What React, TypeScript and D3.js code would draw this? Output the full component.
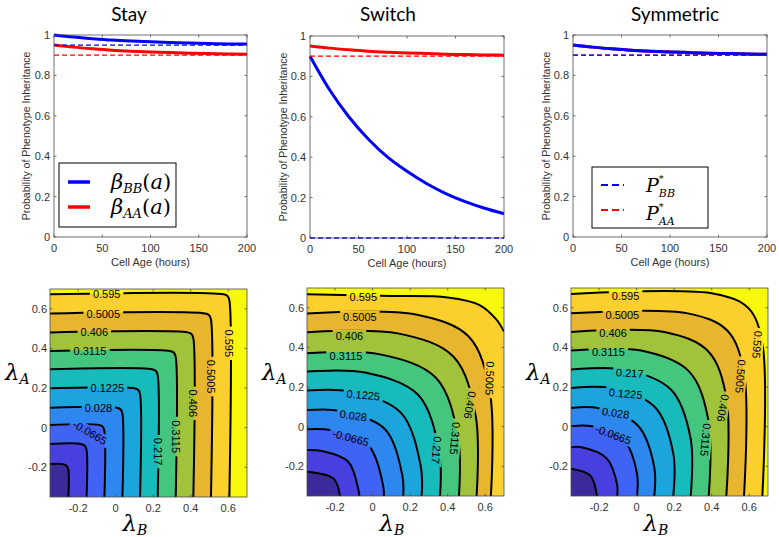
import React from 'react';
import * as d3 from 'd3';

// ---------- data: top row (probability vs cell age) ----------
const ages = [0, 20, 40, 60, 80, 100, 120, 140, 160, 180, 200];
const stayBetaBB = [1.0, 0.99, 0.982, 0.975, 0.97, 0.966, 0.963, 0.96, 0.958, 0.956, 0.955];
const stayBetaAA = [0.95, 0.94, 0.932, 0.925, 0.92, 0.916, 0.913, 0.91, 0.908, 0.906, 0.905];
const switchBetaBB = [0.9, 0.735, 0.6, 0.49, 0.4, 0.33, 0.27, 0.22, 0.18, 0.147, 0.12];
const switchBetaAA = [0.95, 0.94, 0.932, 0.925, 0.92, 0.916, 0.913, 0.91, 0.908, 0.906, 0.905];
const symBetaBB = [0.95, 0.94, 0.932, 0.925, 0.92, 0.916, 0.913, 0.91, 0.908, 0.906, 0.905];
const symBetaAA = [0.95, 0.94, 0.932, 0.925, 0.92, 0.916, 0.913, 0.91, 0.908, 0.906, 0.905];
const pStarBB = [0.95, 0, 0.9];
const pStarAA = [0.9, 0.9, 0.9];
const panelTitles = ['Stay', 'Switch', 'Symmetric'];
const ageTicks = [0, 50, 100, 150, 200];
const probTicks = [0, 0.2, 0.4, 0.6, 0.8, 1];

// ---------- data: bottom row (contours over lambda_B, lambda_A) ----------
const lambdaDomain = [-0.35, 0.7];
const lambdaTicks = [-0.2, 0, 0.2, 0.4, 0.6];
const contourLevels = [-0.2555, -0.161, -0.0665, 0.028, 0.1225, 0.217, 0.3115, 0.406, 0.5005, 0.595];
const bandColors = ['#3b2b9a', '#4840de', '#4063f4', '#2e87ee', '#1ca5dc', '#17bbbb', '#45c67f', '#a1c33c', '#e8b52f', '#fbd02c', '#f8f80f'];

// each curve: list of [lambdaB, lambdaA] points, one per level
const stayContours = [
  [[-0.35, -0.184], [-0.282, -0.184], [-0.261, -0.193], [-0.252, -0.214], [-0.252, -0.35]],
  [[-0.35, -0.082], [-0.185, -0.082], [-0.164, -0.091], [-0.155, -0.112], [-0.155, -0.35]],
  [[-0.35, 0.014], [-0.09, 0.014], [-0.069, 0.005], [-0.06, -0.016], [-0.06, -0.35]],
  [[-0.35, 0.101], [0.006, 0.101], [0.027, 0.092], [0.036, 0.071], [0.036, -0.35]],
  [[-0.35, 0.199], [0.1, 0.199], [0.121, 0.19], [0.13, 0.169], [0.13, -0.35]],
  [[-0.35, 0.295], [0.194, 0.295], [0.215, 0.286], [0.224, 0.265], [0.224, -0.35]],
  [[-0.35, 0.387], [0.29, 0.387], [0.311, 0.378], [0.32, 0.357], [0.32, -0.35]],
  [[-0.35, 0.481], [0.384, 0.481], [0.405, 0.472], [0.414, 0.451], [0.414, -0.35]],
  [[-0.35, 0.576], [0.478, 0.576], [0.499, 0.567], [0.508, 0.546], [0.508, -0.35]],
  [[-0.35, 0.673], [0.576, 0.673], [0.597, 0.664], [0.606, 0.643], [0.606, -0.35]],
];
const switchContours = [
  [[-0.35, -0.227], [-0.209, -0.262], [-0.174, -0.35]],
  [[-0.35, -0.118], [-0.271, -0.123], [-0.13, -0.177], [-0.076, -0.318], [-0.071, -0.35]],
  [[-0.35, -0.013], [-0.22, -0.018], [-0.022, -0.095], [0.055, -0.293], [0.06, -0.35]],
  [[-0.35, 0.084], [-0.167, 0.079], [0.066, -0.013], [0.158, -0.246], [0.163, -0.35]],
  [[-0.35, 0.182], [-0.119, 0.177], [0.15, 0.071], [0.256, -0.198], [0.261, -0.35]],
  [[-0.35, 0.278], [-0.041, 0.273], [0.242, 0.161], [0.354, -0.122], [0.359, -0.35]],
  [[-0.35, 0.37], [0.04, 0.365], [0.337, 0.247], [0.455, -0.05], [0.46, -0.35]],
  [[-0.35, 0.476], [0.134, 0.471], [0.431, 0.353], [0.549, 0.056], [0.554, -0.35]],
  [[-0.35, 0.571], [0.23, 0.566], [0.513, 0.454], [0.625, 0.171], [0.63, -0.35]],
  [[-0.35, 0.668], [0.1, 0.66], [0.4, 0.652], [0.57, 0.614], [0.66, 0.54], [0.7, 0.48]],
];
const symContours = [
  [[-0.35, -0.212], [-0.247, -0.247], [-0.212, -0.35]],
  [[-0.35, -0.104], [-0.294, -0.104], [-0.16, -0.16], [-0.104, -0.294], [-0.104, -0.35]],
  [[-0.35, 0.002], [-0.238, 0.002], [-0.068, -0.068], [0.002, -0.238], [0.002, -0.35]],
  [[-0.35, 0.094], [-0.206, 0.094], [0.006, 0.006], [0.094, -0.206], [0.094, -0.35]],
  [[-0.35, 0.195], [-0.135, 0.195], [0.098, 0.098], [0.195, -0.135], [0.195, -0.35]],
  [[-0.35, 0.288], [-0.062, 0.288], [0.185, 0.185], [0.288, -0.062], [0.288, -0.35]],
  [[-0.35, 0.384], [0.024, 0.384], [0.279, 0.279], [0.384, 0.024], [0.384, -0.35]],
  [[-0.35, 0.478], [0.148, 0.478], [0.381, 0.381], [0.478, 0.148], [0.478, -0.35]],
  [[-0.35, 0.572], [0.272, 0.572], [0.484, 0.484], [0.572, 0.272], [0.572, -0.35]],
  [[-0.35, 0.67], [0.42, 0.67], [0.597, 0.597], [0.67, 0.42], [0.67, -0.35]],
];
// labels: [text, lambdaB, lambdaA, angle]
const stayLabels: [string, number, number, number][] = [
  ['0.595', -0.048, 0.673, 0], ['0.5005', -0.066, 0.576, 0], ['0.406', -0.114, 0.481, 0],
  ['0.3115', -0.137, 0.387, 0], ['0.1225', -0.044, 0.199, 0], ['0.028', -0.092, 0.101, 0],
  ['-0.0665', -0.137, -0.024, 30], ['0.595', 0.606, 0.426, 90], ['0.5005', 0.508, 0.258, 90],
  ['0.406', 0.414, 0.123, 90], ['0.3115', 0.32, -0.045, 90], ['0.217', 0.224, -0.121, 90],
];
const switchLabels: [string, number, number, number][] = [
  ['0.595', -0.05, 0.657, 0], ['0.5005', -0.068, 0.556, 0], ['0.406', -0.124, 0.46, 0],
  ['0.3115', -0.142, 0.359, 0], ['0.1225', -0.05, 0.16, 5], ['0.028', -0.103, 0.056, 8],
  ['-0.0665', -0.117, -0.056, 15], ['0.217', 0.341, -0.118, 95], ['0.3115', 0.439, -0.059, 95],
  ['0.406', 0.519, 0.109, 100], ['0.5005', 0.625, 0.244, 92],
];
const symLabels: [string, number, number, number][] = [
  ['0.595', -0.059, 0.662, 0], ['0.5005', -0.076, 0.566, 0], ['0.406', -0.126, 0.473, 0],
  ['0.3115', -0.151, 0.377, 0], ['0.217', -0.037, 0.271, 3], ['0.1225', -0.059, 0.167, 5],
  ['0.028', -0.112, 0.069, 8], ['-0.0665', -0.124, -0.04, 20], ['0.3115', 0.368, -0.066, 95],
  ['0.406', 0.46, 0.094, 100], ['0.5005', 0.554, 0.254, 95], ['0.595', 0.643, 0.414, 95],
];

// ---------- layout ----------
const W = 779;
const H = 537;
const topBoxes = [
  { x0: 54, x1: 247, y0: 35, y1: 237, ylab: 26, tx: 129 },
  { x0: 310, x1: 504, y0: 36, y1: 238, ylab: 283, tx: 388 },
  { x0: 573, x1: 767, y0: 35, y1: 237, ylab: 546, tx: 675 },
];
const botBoxes = [
  { x0: 50, x1: 247, y0: 289, y1: 497, lx: 5 },
  { x0: 307, x1: 504, y0: 288, y1: 496, lx: 262 },
  { x0: 571, x1: 768, y0: 288, y1: 496, lx: 526 },
];
const BLUE = '#0000ff';
const RED = '#ff0000';
const AXIS = '#4d4d4d';
const TXT = '#333333';
const SANS = '"Liberation Sans", Arial, sans-serif';
const SERIF = '"DejaVu Serif", serif';

const fmt = (v: number) => (Math.abs(v) < 1e-9 ? '0' : String(+v.toFixed(2)));
const labelWidth = (s: string) =>
  s.split('').reduce((a, c) => a + (c === '.' ? 3.1 : c === '-' ? 3.7 : 6.1), 0);

function TopPanel({ i }: { i: number }) {
  const b = topBoxes[i];
  const x = d3.scaleLinear().domain([0, 200]).range([b.x0, b.x1]);
  const y = d3.scaleLinear().domain([0, 1]).range([b.y1, b.y0]);
  const line = d3
    .line<number>()
    .x((_, k) => x(ages[k]))
    .y((d) => y(d))
    .curve(d3.curveMonotoneX);
  const series = [
    [stayBetaBB, stayBetaAA],
    [switchBetaBB, switchBetaAA],
    [symBetaBB, symBetaAA],
  ][i];
  const clip = `tclip${i}`;
  return (
    <g>
      <defs>
        <clipPath id={clip}>
          <rect x={b.x0 - 2} y={b.y0 - 2} width={b.x1 - b.x0 + 4} height={b.y1 - b.y0 + 4} />
        </clipPath>
      </defs>
      <rect x={b.x0} y={b.y0} width={b.x1 - b.x0} height={b.y1 - b.y0} fill="#fff" />
      {ageTicks.map((t) => (
        <g key={'xt' + t}>
          <line x1={x(t)} x2={x(t)} y1={b.y1} y2={b.y1 - 2.5} stroke={AXIS} strokeWidth={0.8} />
          <line x1={x(t)} x2={x(t)} y1={b.y0} y2={b.y0 + 2.5} stroke={AXIS} strokeWidth={0.8} />
          <text x={x(t)} y={b.y1 + 15} textAnchor="middle" fontSize={11} fontFamily={SANS} fill={TXT}>
            {t}
          </text>
        </g>
      ))}
      {probTicks.map((t) => (
        <g key={'yt' + t}>
          <line x1={b.x0} x2={b.x0 + 2.5} y1={y(t)} y2={y(t)} stroke={AXIS} strokeWidth={0.8} />
          <line x1={b.x1} x2={b.x1 - 2.5} y1={y(t)} y2={y(t)} stroke={AXIS} strokeWidth={0.8} />
          <text x={b.x0 - 4} y={y(t) + 4} textAnchor="end" fontSize={11} fontFamily={SANS} fill={TXT}>
            {fmt(t)}
          </text>
        </g>
      ))}
      <g clipPath={`url(#${clip})`}>
        <path d={line(series[1]) || ''} fill="none" stroke={RED} strokeWidth={3} />
        <path d={line(series[0]) || ''} fill="none" stroke={BLUE} strokeWidth={3} />
        <line x1={x(0)} x2={x(200)} y1={y(pStarAA[i])} y2={y(pStarAA[i])} stroke={RED} strokeWidth={1.3} strokeDasharray="5,3" />
        <line x1={x(0)} x2={x(200)} y1={y(pStarBB[i])} y2={y(pStarBB[i])} stroke={BLUE} strokeWidth={1.3} strokeDasharray="5,3" />
      </g>
      <rect x={b.x0} y={b.y0} width={b.x1 - b.x0} height={b.y1 - b.y0} fill="none" stroke={AXIS} strokeWidth={0.8} />
      <text x={(b.x0 + b.x1) / 2} y={b.y1 + 29} textAnchor="middle" fontSize={11} fontFamily={SANS} fill={TXT}>
        Cell Age (hours)
      </text>
      <text
        transform={`translate(${b.ylab},${(b.y0 + b.y1) / 2}) rotate(-90)`}
        textAnchor="middle"
        dominantBaseline="central"
        fontSize={10.5}
        fontFamily={SANS}
        fill={TXT}
      >
        Probability of Phenotype Inheritance
      </text>
      <text x={b.tx} y={21} textAnchor="middle" fontSize={19} fontFamily="Lato, 'Open Sans', sans-serif" fill="#000">
        {panelTitles[i]}
      </text>
    </g>
  );
}

function BottomPanel({ i }: { i: number }) {
  const b = botBoxes[i];
  const x = d3.scaleLinear().domain(lambdaDomain).range([b.x0, b.x1]);
  const y = d3.scaleLinear().domain(lambdaDomain).range([b.y1, b.y0]);
  const curves = [stayContours, switchContours, symContours][i];
  const labels = [stayLabels, switchLabels, symLabels][i];
  const gen = d3
    .line<number[]>()
    .x((d) => x(d[0]))
    .y((d) => y(d[1]))
    .curve(d3.curveCatmullRom.alpha(0.5));
  const [lo, hi] = lambdaDomain;
  const clip = `bclip${i}`;
  const mask = `bmask${i}`;
  const fillPath = (pts: number[][]) => {
    const last = pts[pts.length - 1];
    let d = gen(pts) || '';
    if (last[0] >= hi - 1e-6) d += `L${x(hi)},${y(lo)}`;
    d += `L${x(lo)},${y(lo)}Z`;
    return d;
  };
  return (
    <g>
      <defs>
        <clipPath id={clip}>
          <rect x={b.x0} y={b.y0} width={b.x1 - b.x0} height={b.y1 - b.y0} />
        </clipPath>
        <mask id={mask} maskUnits="userSpaceOnUse" x={0} y={0} width={W} height={H}>
          <rect x={0} y={0} width={W} height={H} fill="#fff" />
          {labels.map(([t, lb, la, ang], k) => {
            const w = labelWidth(t) + 6;
            return (
              <rect
                key={k}
                x={-w / 2}
                y={-6}
                width={w}
                height={12}
                fill="#000"
                transform={`translate(${x(lb)},${y(la)}) rotate(${ang})`}
              />
            );
          })}
        </mask>
      </defs>
      <g clipPath={`url(#${clip})`}>
        <rect x={b.x0} y={b.y0} width={b.x1 - b.x0} height={b.y1 - b.y0} fill={bandColors[contourLevels.length]} />
        {curves
          .map((pts, k) => ({ pts, k }))
          .reverse()
          .map(({ pts, k }) => (
            <path key={'f' + k} d={fillPath(pts)} fill={bandColors[k]} stroke="none" />
          ))}
        <g mask={`url(#${mask})`}>
          {curves.map((pts, k) => (
            <path key={'c' + k} d={gen(pts) || ''} fill="none" stroke="#000" strokeWidth={2} />
          ))}
        </g>
        {labels.map(([t, lb, la, ang], k) => (
          <text
            key={'l' + k}
            transform={`translate(${x(lb)},${y(la)}) rotate(${ang})`}
            textAnchor="middle"
            dominantBaseline="central"
            fontSize={11}
            fontFamily={SANS}
            fill="#000"
          >
            {t}
          </text>
        ))}
      </g>
      {lambdaTicks.map((t) => (
        <g key={'t' + t}>
          <line x1={x(t)} x2={x(t)} y1={b.y1} y2={b.y1 - 2.5} stroke={AXIS} strokeWidth={0.8} />
          <line x1={x(t)} x2={x(t)} y1={b.y0} y2={b.y0 + 2.5} stroke={AXIS} strokeWidth={0.8} />
          <line x1={b.x0} x2={b.x0 + 2.5} y1={y(t)} y2={y(t)} stroke={AXIS} strokeWidth={0.8} />
          <line x1={b.x1} x2={b.x1 - 2.5} y1={y(t)} y2={y(t)} stroke={AXIS} strokeWidth={0.8} />
          <text x={x(t)} y={b.y1 + 15} textAnchor="middle" fontSize={11} fontFamily={SANS} fill={TXT}>
            {fmt(t)}
          </text>
          <text x={b.x0 - 3} y={y(t) + 4} textAnchor="end" fontSize={11} fontFamily={SANS} fill={TXT}>
            {fmt(t)}
          </text>
        </g>
      ))}
      <rect x={b.x0} y={b.y0} width={b.x1 - b.x0} height={b.y1 - b.y0} fill="none" stroke={AXIS} strokeWidth={0.8} />
      <text x={b.lx} y={380} fontSize={23} fontFamily={SERIF} fontStyle="italic" fill="#000">
        λ<tspan fontSize={14} dy={4}>A</tspan>
      </text>
      <text x={(b.x0 + b.x1) / 2 - 26} y={531} fontSize={23} fontFamily={SERIF} fontStyle="italic" fill="#000">
        λ<tspan fontSize={14} dy={4}>B</tspan>
      </text>
    </g>
  );
}

function Legends() {
  return (
    <g>
      <rect x={59} y={163} width={117} height={64} fill="#fff" stroke="#000" strokeWidth={1} />
      <line x1={68} x2={90} y1={182} y2={182} stroke={BLUE} strokeWidth={3.5} />
      <line x1={68} x2={90} y1={207} y2={207} stroke={RED} strokeWidth={3.5} />
      <text x={111} y={189} fontSize={21} fontFamily={SERIF} fontStyle="italic">
        β<tspan fontSize={13} dy={4}>BB</tspan>
        <tspan dy={-4} fontStyle="normal">(</tspan>a<tspan fontStyle="normal">)</tspan>
      </text>
      <text x={111} y={214} fontSize={21} fontFamily={SERIF} fontStyle="italic">
        β<tspan fontSize={13} dy={4}>AA</tspan>
        <tspan dy={-4} fontStyle="normal">(</tspan>a<tspan fontStyle="normal">)</tspan>
      </text>

      <rect x={592} y={167} width={116} height={61} fill="#fff" stroke="#000" strokeWidth={1} />
      <line x1={601} x2={624} y1={185} y2={185} stroke={BLUE} strokeWidth={2} strokeDasharray="7,4" />
      <line x1={601} x2={624} y1={210} y2={210} stroke={RED} strokeWidth={2} strokeDasharray="7,4" />
      <text x={646} y={192} fontSize={19} fontFamily={SERIF} fontStyle="italic">
        P<tspan fontSize={10} dy={-10}>*</tspan>
        <tspan fontSize={11} dx={-5} dy={15}>BB</tspan>
      </text>
      <text x={646} y={220} fontSize={19} fontFamily={SERIF} fontStyle="italic">
        P<tspan fontSize={10} dy={-10}>*</tspan>
        <tspan fontSize={11} dx={-5} dy={15}>AA</tspan>
      </text>
    </g>
  );
}

export default function App() {
  return (
    <svg
      width={W}
      height={H}
      viewBox={`0 0 ${W} ${H}`}
      style={{ position: 'absolute', left: 0, top: 0, background: '#fff' }}
    >
      <rect x={0} y={0} width={W} height={H} fill="#fff" />
      {[0, 1, 2].map((i) => (
        <TopPanel key={'t' + i} i={i} />
      ))}
      {[0, 1, 2].map((i) => (
        <BottomPanel key={'b' + i} i={i} />
      ))}
      <Legends />
    </svg>
  );
}
